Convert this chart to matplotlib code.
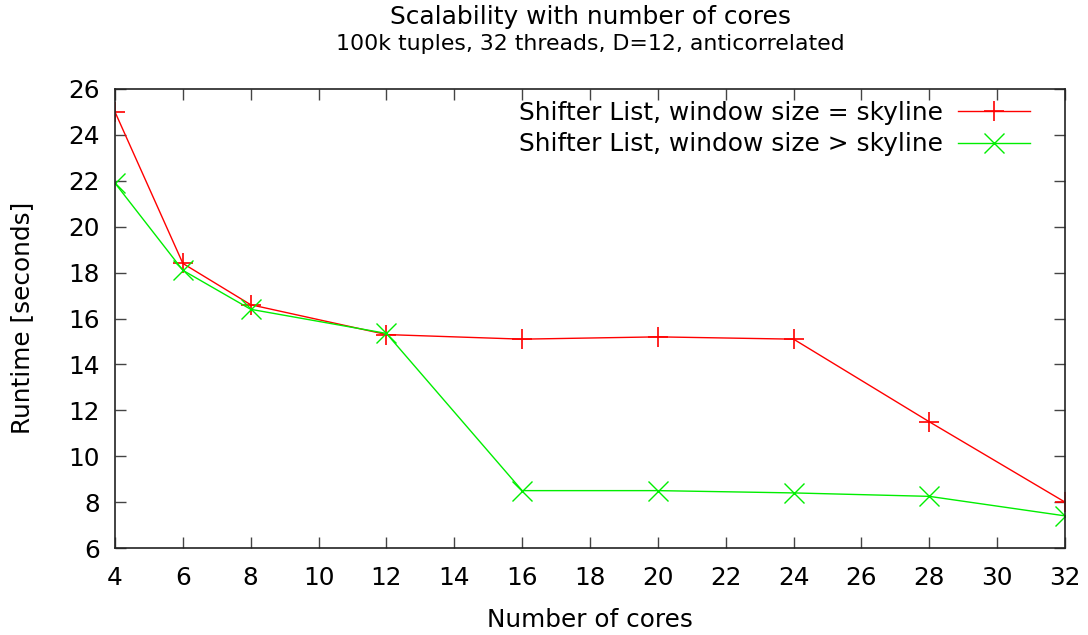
import matplotlib
matplotlib.use("Agg")
import matplotlib.pyplot as plt

cores = [4, 6, 8, 12, 16, 20, 24, 28, 32]
runtime_equal = [25.0, 18.4, 16.6, 15.3, 15.1, 15.2, 15.1, 11.5, 8.0]
runtime_greater = [21.9, 18.1, 16.4, 15.35, 8.5, 8.5, 8.4, 8.25, 7.4]
label_equal = "Shifter List, window size = skyline"
label_greater = "Shifter List, window size > skyline"
x_ticks = list(range(4, 33, 2))
y_ticks = list(range(6, 27, 2))

plt.rcParams['font.family'] = ['DejaVu Sans']
fig = plt.figure(figsize=(10.88, 6.35), dpi=100)
ax = fig.add_axes([115 / 1088, 1 - 548 / 635, 950 / 1088, 459 / 635])

ax.plot(cores, runtime_equal, color='#ff0000', lw=1.0, marker='+',
        markersize=14, markeredgewidth=1.2, label=label_equal)
ax.plot(cores, runtime_greater, color='#00ee00', lw=1.0, marker='x',
        markersize=14, markeredgewidth=1.0, label=label_greater)

ax.set_xlim(4, 32)
ax.set_ylim(6, 26)
ax.set_xticks(x_ticks)
ax.set_yticks(y_ticks)
ax.tick_params(direction='in', top=True, right=True, length=8, width=1,
               labelsize=17.8, color='#444444')
ax.tick_params(axis='x', pad=13)
ax.tick_params(axis='y', pad=11)
for s in ax.spines.values():
    s.set_linewidth(1.2)
    s.set_color('#222222')

fig.text(590 / 1088, 1 - 620 / 635, "Number of cores",
         ha='center', va='center', fontsize=17.8)
fig.text(22 / 1088, 1 - 318 / 635, "Runtime [seconds]", rotation=90,
         ha='center', va='center', fontsize=17.8)
fig.text(590 / 1088, 1 - 17 / 635, "Scalability with number of cores",
         ha='center', va='center', fontsize=17.9)
fig.text(590 / 1088, 1 - 44 / 635, "100k tuples, 32 threads, D=12, anticorrelated",
         ha='center', va='center', fontsize=15.8)

ax.legend(loc='upper right', frameon=False, markerfirst=False, fontsize=17.9,
          handlelength=2.9, handletextpad=0.6, borderaxespad=0.0,
          labelspacing=0.3, bbox_to_anchor=(0.974, 0.996))

fig.savefig("out.png", dpi=100)
